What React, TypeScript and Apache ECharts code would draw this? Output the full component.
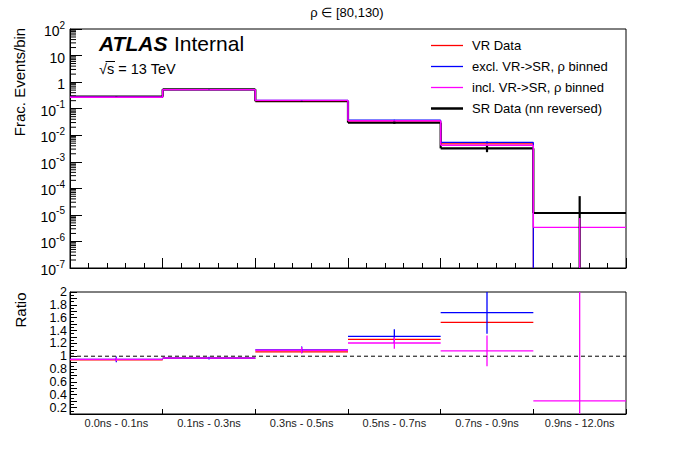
import React, { useEffect, useRef } from "react";
import * as echarts from "echarts";

const FONT = "Liberation Sans, Arial, Helvetica, sans-serif";

const binLabels = [
  "0.0ns - 0.1ns",
  "0.1ns - 0.3ns",
  "0.3ns - 0.5ns",
  "0.5ns - 0.7ns",
  "0.7ns - 0.9ns",
  "0.9ns - 12.0ns",
];

// top panel: fractional events per bin
const vrData = [0.27, 0.52, 0.2, 0.0345, 0.0047, 0];
const exclData = [0.27, 0.52, 0.207, 0.037, 0.0054, 0];
const exclErr = [0.002, 0.003, 0.002, 0.001, 0.0005, 0];
const inclData = [0.27, 0.52, 0.205, 0.035, 0.0042, 3.4e-6];
const inclErr = [0.002, 0.003, 0.002, 0.001, 0.0003, 4.2e-6];
const srData = [0.285, 0.535, 0.19, 0.0297, 0.0032, 1.18e-5];
const srErr = [0.003, 0.004, 0.006, 0.003, 0.0009, 3.9e-5];

// ratio panel
const ratioVR = [0.945, 0.97, 1.067, 1.263, 1.526, 0];
const ratioExcl = [0.95, 0.97, 1.1, 1.31, 1.68, 0];
const ratioExclErr = [0.045, 0.02, 0.05, 0.11, 0.33, 0];
const ratioIncl = [0.95, 0.97, 1.093, 1.206, 1.082, 0.303];
const ratioInclErr = [0.03, 0.015, 0.05, 0.09, 0.24, 3];

const legendItems = [
  { name: "VR Data", color: "#ff0000", width: 1.3 },
  { name: "excl. VR->SR, ρ binned", color: "#0000ff", width: 1.3 },
  { name: "incl. VR->SR, ρ binned", color: "#ff00ff", width: 1.3 },
  { name: "SR Data (nn reversed)", color: "#000000", width: 2.5 },
];

const TINY = 1e-12;
const pos = (v: number) => (v > 0 ? v : TINY);

function histSeries(values: number[], color: string, width: number) {
  const data = values.map((v, i) => [i, pos(v), pos(i > 0 ? values[i - 1] : v)]);
  return {
    type: "custom",
    xAxisIndex: 0,
    yAxisIndex: 0,
    clip: true,
    silent: true,
    dimensions: ["x", "y", "p"],
    encode: { x: 0, y: 1 },
    data,
    renderItem: (params: any, api: any) => {
      const i = api.value(0);
      const v = api.value(1);
      const p = api.value(2);
      const a = api.coord([i, v]);
      const b = api.coord([i + 1, v]);
      const style = { stroke: color, lineWidth: width, fill: "none" };
      const children: any[] = [
        { type: "line", shape: { x1: a[0], y1: a[1], x2: b[0], y2: b[1] }, style },
      ];
      if (i > 0) {
        const q = api.coord([i, p]);
        children.push({ type: "line", shape: { x1: a[0], y1: q[1], x2: a[0], y2: a[1] }, style });
      }
      return { type: "group", children };
    },
  };
}

function errSeries(values: number[], errs: number[], color: string, width: number, xi: number, yi: number, log: boolean) {
  const data = values.map((v, i) => [i, v, errs[i]]);
  return {
    type: "custom",
    xAxisIndex: xi,
    yAxisIndex: yi,
    clip: true,
    silent: true,
    dimensions: ["x", "y", "e"],
    encode: { x: 0, y: 1 },
    data: data.map((d) => [d[0], pos(d[1]), d[2]]),
    renderItem: (params: any, api: any) => {
      const i = api.value(0);
      const v = api.value(1);
      const e = api.value(2);
      if (!(v > TINY) || !(e > 0)) return null;
      const lo = log ? pos(v - e) : v - e;
      const t = api.coord([i + 0.5, v + e]);
      const bt = api.coord([i + 0.5, lo]);
      return {
        type: "line",
        shape: { x1: t[0], y1: t[1], x2: bt[0], y2: bt[1] },
        style: { stroke: color, lineWidth: width },
      };
    },
  };
}

function ratioSeries(values: number[], color: string, width: number) {
  return {
    type: "custom",
    xAxisIndex: 1,
    yAxisIndex: 1,
    clip: true,
    silent: true,
    dimensions: ["x", "y"],
    encode: { x: 0, y: 1 },
    data: values.map((v, i) => [i, v]),
    renderItem: (params: any, api: any) => {
      const i = api.value(0);
      const v = api.value(1);
      if (!(v > 0)) return null;
      const a = api.coord([i, v]);
      const b = api.coord([i + 1, v]);
      return {
        type: "line",
        shape: { x1: a[0], y1: a[1], x2: b[0], y2: b[1] },
        style: { stroke: color, lineWidth: width },
      };
    },
  };
}

// minor log ticks on the top panel's y axis (2..9 x 10^k)
const logMinorTicks: number[] = [];
for (let k = -7; k < 2; k++) for (let m = 2; m <= 9; m++) logMinorTicks.push(m * Math.pow(10, k));

export default function App() {
  const ref = useRef<HTMLDivElement>(null);
  useEffect(() => {
    document.body.style.margin = "0";
    const chart = echarts.init(ref.current!, null, { renderer: "svg" });
    const axisLine = { show: true, lineStyle: { color: "#000", width: 1 } };
    const legendGraphics: any[] = [];
    legendItems.forEach((it, k) => {
      const y = 45.5 + k * 21;
      legendGraphics.push({
        type: "line",
        shape: { x1: 431, y1: y, x2: 463, y2: y },
        style: { stroke: it.color, lineWidth: it.width },
      });
      legendGraphics.push({
        type: "text",
        x: 472,
        y,
        style: { text: it.name, font: `13px ${FONT}`, fill: "#000", textAlign: "left", textVerticalAlign: "middle" },
      });
    });

    const option: any = {
      animation: false,
      backgroundColor: "#fff",
      grid: [
        { left: 70, top: 29, width: 556, height: 239, show: true, borderColor: "#000", borderWidth: 1, backgroundColor: "transparent" },
        { left: 70, top: 292, width: 556, height: 122, show: true, borderColor: "#000", borderWidth: 1, backgroundColor: "transparent" },
      ],
      xAxis: [
        {
          gridIndex: 0, type: "value", min: 0, max: 6, interval: 1,
          axisLine, axisTick: { show: true, inside: true, length: 10, lineStyle: { color: "#000" } },
          minorTick: { show: true, splitNumber: 5, length: 5, lineStyle: { color: "#000" } },
          axisLabel: { show: false }, splitLine: { show: false },
        },
        {
          gridIndex: 1, type: "value", min: 0, max: 6, interval: 1,
          axisLine, axisTick: { show: true, inside: true, length: 5, lineStyle: { color: "#000" } },
          axisLabel: { show: false }, splitLine: { show: false },
        },
        {
          gridIndex: 1, type: "category", data: binLabels, position: "bottom",
          axisLine: { show: false }, axisTick: { show: false }, splitLine: { show: false },
          axisLabel: { show: true, margin: 3, color: "#222", fontFamily: FONT, fontSize: 11, interval: 0 },
        },
      ],
      yAxis: [
        {
          gridIndex: 0, type: "log", logBase: 10, min: 1e-7, max: 100, interval: 1, splitNumber: 9,
          axisLine, axisTick: { show: true, inside: true, length: 12, lineStyle: { color: "#000" } },
          splitLine: { show: false },
          axisLabel: {
            margin: 5, color: "#000", fontFamily: FONT,
            formatter: (v: number) => {
              const e = Math.round(Math.log10(v));
              if (e === 0) return "{b|1}";
              if (e === 1) return "{b|10}";
              return `{b|10}{s|${e}}`;
            },
            rich: {
              b: { fontSize: 14, fontFamily: FONT, color: "#000", lineHeight: 18, verticalAlign: "bottom" },
              s: { fontSize: 10, fontFamily: FONT, color: "#000", lineHeight: 18, verticalAlign: "top" },
            },
          },
        },
        {
          gridIndex: 1, type: "value", min: 0.1, max: 2, interval: 0.2 / 2,
          axisLine, axisTick: { show: true, inside: true, length: 7, lineStyle: { color: "#000" } },
          minorTick: { show: true, splitNumber: 2, length: 4, lineStyle: { color: "#000" } },
          splitLine: { show: false },
          axisLabel: {
            margin: 3, color: "#000", fontFamily: FONT, fontSize: 12.5, lineHeight: 12,
            showMinLabel: true, showMaxLabel: true,
            formatter: (v: number) => {
              const t = Math.round(v * 10);
              if (t % 2 !== 0) return "";
              return t % 10 === 0 ? String(t / 10) : (t / 10).toFixed(1);
            },
          },
        },
      ],
      series: [
        {
          type: "custom", xAxisIndex: 0, yAxisIndex: 0, silent: true, clip: false,
          dimensions: ["x", "y"], encode: { x: 0, y: 1 },
          data: logMinorTicks.map((v) => [0, v]),
          renderItem: (params: any, api: any) => {
            const p = api.coord([0, api.value(1)]);
            return { type: "line", shape: { x1: p[0], y1: p[1], x2: p[0] + 6, y2: p[1] }, style: { stroke: "#000", lineWidth: 1 } };
          },
        },
        histSeries(srData, "#000000", 2.2),
        histSeries(vrData, "#ff0000", 1.2),
        histSeries(exclData, "#0000ff", 1.2),
        histSeries(inclData, "#ff00ff", 1.4),
        errSeries(srData, srErr, "#000000", 2.2, 0, 0, true),
        errSeries(exclData, exclErr, "#0000ff", 1.2, 0, 0, true),
        errSeries(inclData, inclErr, "#ff00ff", 1.4, 0, 0, true),
        {
          type: "line", xAxisIndex: 1, yAxisIndex: 1, silent: true, symbol: "none",
          data: [[0, 1], [6, 1]],
          lineStyle: { color: "#000", width: 1, type: [4, 3] },
        },
        ratioSeries(ratioVR, "#ff0000", 1.3),
        ratioSeries(ratioExcl, "#0000ff", 1.3),
        ratioSeries(ratioIncl, "#ff00ff", 1.3),
        errSeries(ratioExcl, ratioExclErr, "#0000ff", 1.3, 1, 1, false),
        errSeries(ratioIncl, ratioInclErr, "#ff00ff", 1.3, 1, 1, false),
      ],
      graphic: [
        {
          type: "text", x: 347, y: 12.5,
          style: { text: "ρ ∈ [80,130)", font: `13px ${FONT}`, fill: "#000", textAlign: "center", textVerticalAlign: "middle" },
        },
        {
          type: "text", x: 99, y: 43.5,
          style: { text: "ATLAS", font: `italic bold 21px ${FONT}`, fill: "#000", textAlign: "left", textVerticalAlign: "middle" },
        },
        {
          type: "text", x: 174, y: 43.5,
          style: { text: "Internal", font: `21px ${FONT}`, fill: "#000", textAlign: "left", textVerticalAlign: "middle" },
        },
        {
          type: "text", x: 99, y: 68.5,
          style: { text: "√s = 13 TeV", font: `14.5px ${FONT}`, fill: "#000", textAlign: "left", textVerticalAlign: "middle" },
        },
        {
          type: "line", shape: { x1: 105.5, y1: 61.5, x2: 115, y2: 61.5 },
          style: { stroke: "#000", lineWidth: 1 },
        },
        {
          type: "text", x: 19, y: 82, rotation: Math.PI / 2,
          style: { text: "Frac. Events/bin", font: `15px ${FONT}`, fill: "#000", textAlign: "center", textVerticalAlign: "middle" },
        },
        {
          type: "text", x: 20, y: 310, rotation: Math.PI / 2,
          style: { text: "Ratio", font: `15px ${FONT}`, fill: "#000", textAlign: "center", textVerticalAlign: "middle" },
        },
        ...legendGraphics,
      ],
    };
    chart.setOption(option);
    return () => chart.dispose();
  }, []);
  return <div ref={ref} style={{ width: 696, height: 472 }} />;
}
